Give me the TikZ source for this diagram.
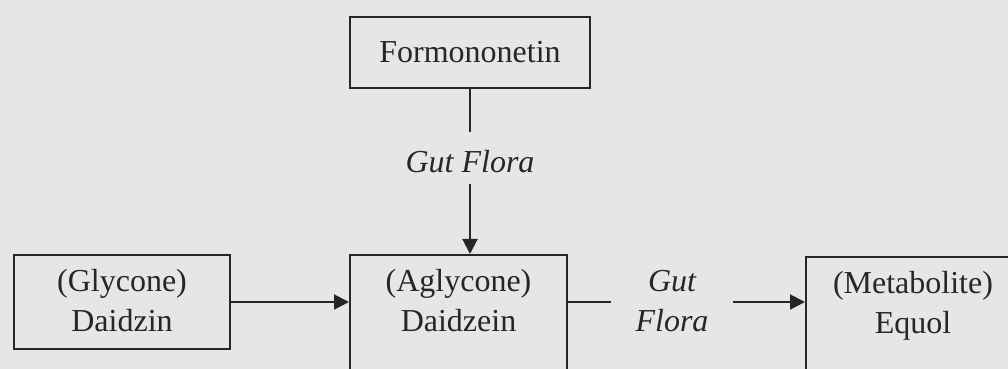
\documentclass[tikz,border=0pt]{standalone}
\usepackage{fontspec}
\setmainfont{Liberation Serif}
\usetikzlibrary{arrows.meta, positioning}
\definecolor{cink}{HTML}{262626}
\definecolor{cpaper}{HTML}{E6E6E6}
\tikzset{
  every picture/.style={font=\fontsize{16}{20}\selectfont, line width=1pt},
  box/.style={draw=cink, text=cink, align=center},
  stage/.style={box, anchor=north west, inner xsep=0pt, inner ysep=6pt, text height=32pt, text depth=#1},
  stage/.default=3pt,
  flow/.style={font=\fontsize{16}{20}\selectfont\itshape, text=cink, align=center},
  arrow/.style={-{Triangle[length=7.5pt, width=7.5pt]}, draw=cink},
  link/.style={draw=cink},
}

\begin{document}
\begin{tikzpicture}[x=0.5pt, y=-0.5pt]
  \fill[cpaper] (0,0) rectangle (1008,369);
  \useasboundingbox (0,0) rectangle (1008,369);
  % top precursor
  \node[box, minimum width=120pt, minimum height=35.5pt] (formo) at (470,52.5) {Formononetin};
  \node[flow, anchor=base, inner sep=0pt, text height=20pt, text depth=5pt] (gutA) at (470,173) {Gut Flora};
  % lower row
  \node[stage, minimum width=108pt] (daidzin) at (13,254) {(Glycone)\\Daidzin};
  \node[stage=80pt, minimum width=108.5pt] (daidzein) at (349,254) {(Aglycone)\\Daidzein};
  \node[stage=80pt, minimum width=107pt] (equol) at (805,256) {(Metabolite)\\Equol};
  \node[flow, anchor=base, inner xsep=12pt] (gutB) at (672,331) {Gut\\Flora};
  % connectors
  \draw[link] (formo) -- (gutA);
  \draw[arrow] (gutA) -- (gutA |- daidzein.north);
  \draw[arrow] (daidzin.east) -- (daidzin.east -| daidzein.west);
  \draw[link] (daidzin.east -| daidzein.east) -- (daidzin.east -| gutB.west);
  \draw[arrow] (daidzin.east -| gutB.east) -- (daidzin.east -| equol.west);
\end{tikzpicture}
\end{document}
